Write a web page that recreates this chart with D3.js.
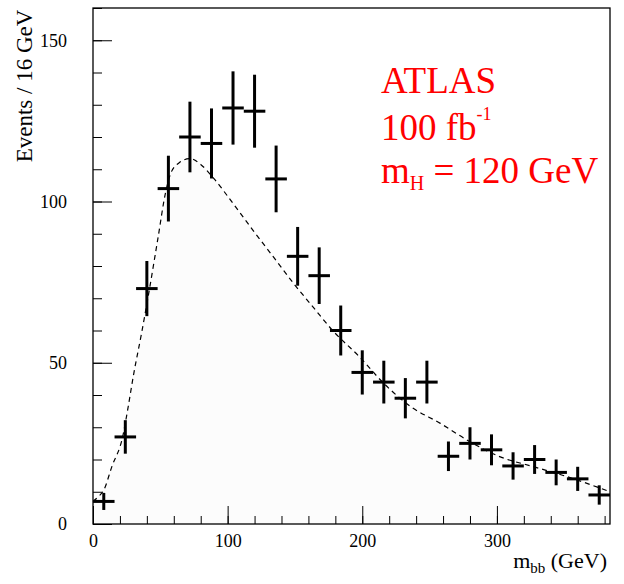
<!DOCTYPE html>
<html><head><meta charset="utf-8">
<script src="https://cdn.jsdelivr.net/npm/d3@7"></script>
<style>body{margin:0;background:#fff}</style>
</head><body>
<svg id="c" width="624" height="584"></svg>
<script>
const binCenters = [8,24,40,56,72,88,104,120,136,152,168,184,200,216,232,248,264,280,296,312,328,344,360,376];
const counts = [7,27,73,104,120,118,129,128,107,83,77,60,47,44,39,44,21,25,23,18,20,16,14,9];
const binWidth = 16;
const curveX = [0,4,8,14,22,26,30,36,42,48,54,58,64,72,80,90,104,119,134,149,164,178,198,216,236,258,278,302,327,352,384];
const curveY = [7,8.5,10.5,17.8,27,36,46,59,73,88,103,109,112,113.3,111.5,107,99.4,91,82.8,74.6,67,60,51.8,43.6,36.4,31.2,26,20.9,17.8,14.7,10];
const xMajor = [0,100,200,300];
const yMajor = [0,50,100,150];

const svg = d3.select("#c");
const x = d3.scaleLinear().domain([0,384]).range([93,610]);
const y = d3.scaleLinear().domain([0,160]).range([524,8]);
const font = "'Liberation Serif','Times New Roman',serif";

// filled expectation
const pts = curveX.map((v,i)=>[v,curveY[i]]);
svg.append("path")
  .attr("d", d3.area().x(d=>x(d[0])).y0(y(0)).y1(d=>y(d[1])).curve(d3.curveMonotoneX)(pts))
  .attr("fill","#fcfcfc");
svg.append("path")
  .attr("d", d3.line().x(d=>x(d[0])).y(d=>y(d[1])).curve(d3.curveMonotoneX)(pts))
  .attr("fill","none").attr("stroke","#000").attr("stroke-width",1.2).attr("stroke-dasharray","5,4");

// axes
const xAxis = d3.axisBottom(x).tickValues(d3.range(0,381,20)).tickSize(-8).tickFormat("");
svg.append("g").attr("transform","translate(0,524)").call(xAxis)
  .call(g=>{g.select(".domain").remove(); g.selectAll("line").attr("stroke","#000");});
svg.append("g").attr("transform","translate(0,524)")
  .call(d3.axisBottom(x).tickValues(xMajor).tickSize(-18).tickPadding(10).tickFormat(d3.format("d")))
  .call(g=>{g.select(".domain").remove(); g.selectAll("line").attr("stroke","#000");
    g.selectAll("text").attr("font-family",font).attr("font-size",18).attr("fill","#000");});
svg.append("g").attr("transform","translate(93,0)")
  .call(d3.axisLeft(y).tickValues(d3.range(0,161,10)).tickSize(-9).tickFormat(""))
  .call(g=>{g.select(".domain").remove(); g.selectAll("line").attr("stroke","#000");});
svg.append("g").attr("transform","translate(93,0)")
  .call(d3.axisLeft(y).tickValues(yMajor).tickSize(-19).tickPadding(26).tickFormat(d3.format("d")))
  .call(g=>{g.select(".domain").remove(); g.selectAll("line").attr("stroke","#000");
    g.selectAll("text").attr("font-family",font).attr("font-size",18).attr("fill","#000");});

// frame
svg.append("rect").attr("x",93).attr("y",8).attr("width",610-93).attr("height",524-8)
  .attr("fill","none").attr("stroke","#000").attr("stroke-width",1.3);

// data points
const g = svg.append("g").attr("stroke","#000").attr("stroke-width",3);
binCenters.forEach((c,i)=>{
  const n = counts[i], e = Math.sqrt(n);
  g.append("line").attr("x1",x(c-binWidth/2)).attr("x2",x(c+binWidth/2)).attr("y1",y(n)).attr("y2",y(n));
  g.append("line").attr("x1",x(c)).attr("x2",x(c)).attr("y1",y(n-e)).attr("y2",y(Math.min(n+e,160)));
});

// labels
svg.append("text").attr("transform","translate(32,86) rotate(-90)").attr("text-anchor","middle")
  .attr("font-family",font).attr("font-size",23).text("Events / 16 GeV");
const xl = svg.append("text").attr("x",607).attr("y",568).attr("text-anchor","end")
  .attr("font-family",font).attr("font-size",22);
xl.append("tspan").text("m");
xl.append("tspan").attr("font-size",15).attr("dy",5).text("bb");
xl.append("tspan").attr("dy",-5).text(" (GeV)");

const red = "#ff0000";
svg.append("text").attr("x",381).attr("y",93).attr("font-family",font).attr("font-size",37).attr("fill",red).text("ATLAS");
const t2 = svg.append("text").attr("x",381).attr("y",140).attr("font-family",font).attr("font-size",37).attr("fill",red);
t2.append("tspan").text("100 fb");
t2.append("tspan").attr("font-size",18).attr("dy",-20).text("-1");
const t3 = svg.append("text").attr("x",381).attr("y",183).attr("font-family",font).attr("font-size",37).attr("fill",red);
t3.append("tspan").text("m");
t3.append("tspan").attr("font-size",20).attr("dy",7).text("H");
t3.append("tspan").attr("dy",-7).text(" = 120 GeV");
</script>
</body></html>
